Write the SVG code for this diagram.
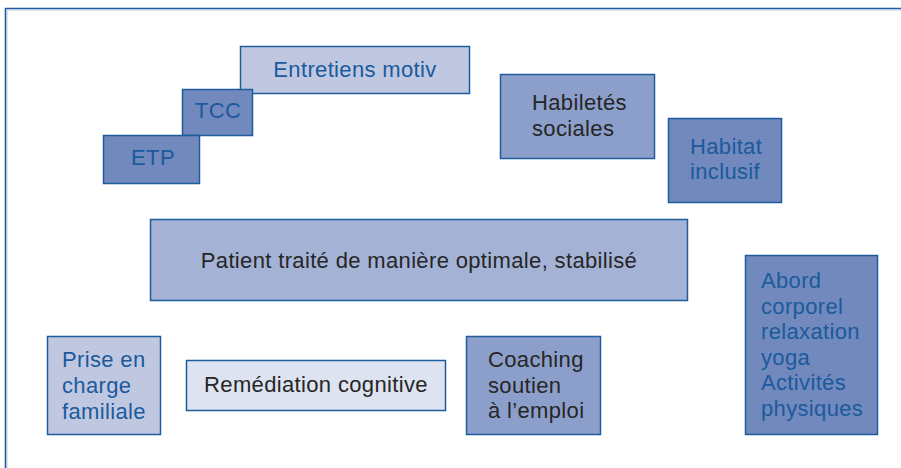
<svg xmlns="http://www.w3.org/2000/svg" width="901" height="468" viewBox="0 0 901 468">
<style>
.b{stroke:#1f5c9e;stroke-width:1.5}
.c1{fill:#c0c8e1}
.c2{fill:#a4b2d6}
.c3{fill:#8c9fcb}
.c4{fill:#7189bd}
.c5{fill:#dde3f0}
text{font-family:"Liberation Sans",Arial,sans-serif;font-size:22px;letter-spacing:0.35px}
.tb{fill:#1b5a9c}
.td{fill:#262626}
.m{text-anchor:middle}
</style>
<rect width="901" height="468" fill="#ffffff"/>
<path d="M5.5,468 V8.5 H901" fill="none" stroke="#1f5c9e" stroke-width="1.6"/>
<path d="M7,468 V10 H901" fill="none" stroke="#a9bedb" stroke-width="0.8"/>
<g id="connectors"></g>
<g id="entretiens"><rect class="b c1" x="240.5" y="46.5" width="229" height="47"/><text class="tb m" x="355" y="77">Entretiens motiv</text></g>
<g id="tcc"><rect class="b c4" x="182.5" y="89.5" width="70" height="46"/><text class="tb m" x="218" y="118">TCC</text></g>
<g id="etp"><rect class="b c4" x="103.5" y="135.5" width="96" height="48"/><text class="tb m" x="153" y="165">ETP</text></g>
<g id="habiletes"><rect class="b c3" x="500.5" y="74.5" width="154" height="84"/><text class="td" x="532" y="110">Habiletés</text><text class="td" x="532" y="136">sociales</text></g>
<g id="habitat"><rect class="b c4" x="668.5" y="118.5" width="113" height="84"/><text class="tb" x="690" y="154">Habitat</text><text class="tb" x="690" y="179">inclusif</text></g>
<g id="patient"><rect class="b c2" x="150.5" y="219.5" width="537" height="81"/><text class="td m" x="419" y="268">Patient traité de manière optimale, stabilisé</text></g>
<g id="prise"><rect class="b c1" x="47.5" y="336.5" width="113" height="98"/><text class="tb" x="62" y="367">Prise en</text><text class="tb" x="62" y="393">charge</text><text class="tb" x="62" y="419">familiale</text></g>
<g id="remediation"><rect class="b c5" x="186.5" y="360.5" width="259" height="50"/><text class="td m" x="316" y="392">Remédiation cognitive</text></g>
<g id="coaching"><rect class="b c3" x="466.5" y="336.5" width="134" height="98"/><text class="td" x="488" y="367">Coaching</text><text class="td" x="488" y="393">soutien</text><text class="td" x="488" y="418">à l’emploi</text></g>
<g id="abord"><rect class="b c4" x="745.5" y="255.5" width="132" height="179"/><text class="tb" x="761" y="288">Abord</text><text class="tb" x="761" y="314">corporel</text><text class="tb" x="761" y="339">relaxation</text><text class="tb" x="761" y="365">yoga</text><text class="tb" x="761" y="390">Activités</text><text class="tb" x="761" y="416">physiques</text></g>
</svg>
